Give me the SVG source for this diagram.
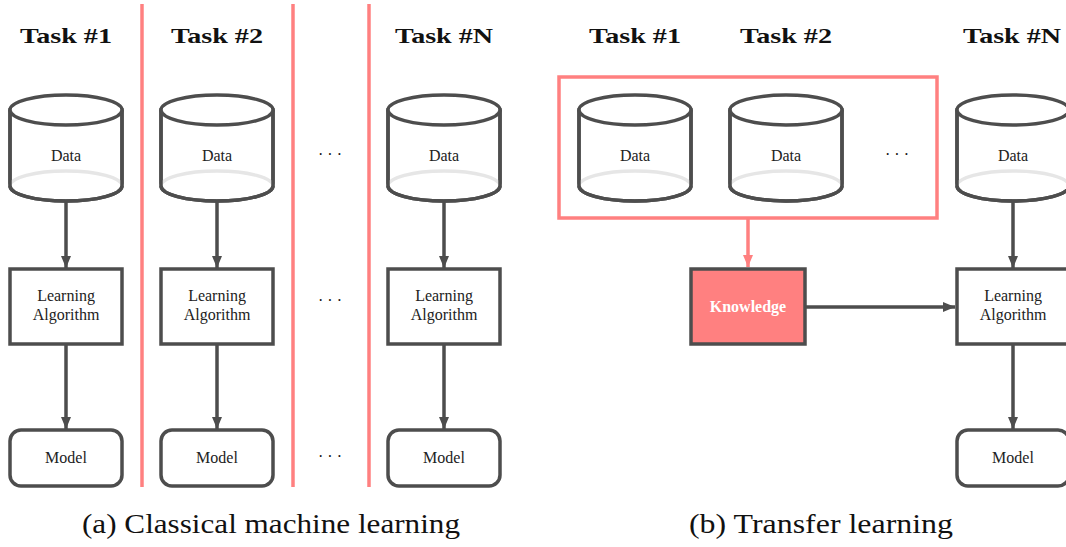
<svg xmlns="http://www.w3.org/2000/svg" width="1066" height="547" viewBox="0 0 1066 547">
  <style>
    text { font-family: "Liberation Serif", "Times New Roman", Tinos, "Noto Serif", "DejaVu Serif", Times, serif; }
    .hdr { font-weight: bold; font-size: 22px; fill: #111; text-anchor: middle; }
    .cap { font-size: 27px; fill: #111; text-anchor: middle; }
    .lbl { font-size: 16px; fill: #222; text-anchor: middle; }
    .know { font-weight: bold; font-size: 16px; fill: #fff; text-anchor: middle; }
    .dots { font-size: 16px; fill: #111; text-anchor: middle; }
    .shape { fill: #fff; stroke: #4d4d4d; stroke-width: 3.5; }
    .side { fill: none; stroke: #4d4d4d; stroke-width: 3.5; }
    .shade { fill: none; stroke: #e6e6e6; stroke-width: 3.5; }
    .sep { stroke: #ff8080; stroke-width: 3.5; }
    .edge { fill: none; stroke: #4d4d4d; stroke-width: 3.5; marker-end: url(#tip); }
    .edge-red { fill: none; stroke: #ff8080; stroke-width: 3.5; marker-end: url(#tip-red); }
  </style>
  <defs>
    <marker id="tip" markerUnits="userSpaceOnUse" markerWidth="14" markerHeight="12" refX="12" refY="6" orient="auto">
      <path d="M0,1 L12,6 L0,11 Z" fill="#4d4d4d"/>
    </marker>
    <marker id="tip-red" markerUnits="userSpaceOnUse" markerWidth="14" markerHeight="12" refX="12" refY="6" orient="auto">
      <path d="M0,1 L12,6 L0,11 Z" fill="#ff8080"/>
    </marker>
    <!-- data store cylinder centred on x=0 -->
    <g id="cyl">
      <path class="shape" d="M-56,110 L-56,186 A56,15 0 0 0 56,186 L56,110 Z"/>
      <path class="shade" d="M-56,186 A56,15 0 0 1 56,186"/>
      <path class="side" d="M-56,110 L-56,186 A56,15 0 0 0 56,186 L56,110"/>
      <ellipse class="shape" cx="0" cy="110" rx="56" ry="15"/>
      <text class="lbl" x="0" y="161">Data</text>
    </g>
    <g id="algo">
      <rect class="shape" x="-56" y="269" width="112" height="75"/>
      <text class="lbl" x="0" y="301">Learning</text>
      <text class="lbl" x="0" y="320">Algorithm</text>
    </g>
    <g id="model">
      <rect class="shape" x="-56" y="430" width="112" height="56" rx="11"/>
      <text class="lbl" x="0" y="463">Model</text>
    </g>
  </defs>

  <!-- column separators -->
  <g id="separators">
    <line class="sep" x1="142" y1="4" x2="142" y2="487"/>
    <line class="sep" x1="293" y1="4" x2="293" y2="487"/>
    <line class="sep" x1="369" y1="4" x2="369" y2="487"/>
  </g>

  <!-- headers -->
  <g id="headers">
    <text class="hdr" x="66" y="43" textLength="92" lengthAdjust="spacingAndGlyphs">Task #1</text>
    <text class="hdr" x="217" y="43" textLength="92" lengthAdjust="spacingAndGlyphs">Task #2</text>
    <text class="hdr" x="444" y="43" textLength="98" lengthAdjust="spacingAndGlyphs">Task #N</text>
    <text class="hdr" x="635" y="43" textLength="92" lengthAdjust="spacingAndGlyphs">Task #1</text>
    <text class="hdr" x="786" y="43" textLength="92" lengthAdjust="spacingAndGlyphs">Task #2</text>
    <text class="hdr" x="1012" y="43" textLength="98" lengthAdjust="spacingAndGlyphs">Task #N</text>
  </g>

  <!-- pooled source data -->
  <g id="source-pool">
    <rect x="559" y="77" width="378" height="141" fill="none" stroke="#ff8080" stroke-width="3.5"/>
  </g>

  <!-- connectors -->
  <g id="connectors">
    <path class="edge" d="M66,201 L66,268"/>
    <path class="edge" d="M66,344 L66,429"/>
    <path class="edge" d="M217,201 L217,268"/>
    <path class="edge" d="M217,344 L217,429"/>
    <path class="edge" d="M444,201 L444,268"/>
    <path class="edge" d="M444,344 L444,429"/>
    <path class="edge" d="M1013,201 L1013,268"/>
    <path class="edge" d="M1013,344 L1013,429"/>
    <path class="edge-red" d="M748,219 L748,267"/>
    <path class="edge" d="M806,307 L955,307"/>
  </g>

  <!-- classical learning, one pipeline per task -->
  <g id="task1-data"><use href="#cyl" x="66"/></g>
  <g id="task1-algo"><use href="#algo" x="66"/></g>
  <g id="task1-model"><use href="#model" x="66"/></g>
  <g id="task2-data"><use href="#cyl" x="217"/></g>
  <g id="task2-algo"><use href="#algo" x="217"/></g>
  <g id="task2-model"><use href="#model" x="217"/></g>
  <g id="taskN-data"><use href="#cyl" x="444"/></g>
  <g id="taskN-algo"><use href="#algo" x="444"/></g>
  <g id="taskN-model"><use href="#model" x="444"/></g>
  <g id="ellipses-a">
    <text class="dots" x="330" y="160">· · ·</text>
    <text class="dots" x="330" y="306">· · ·</text>
    <text class="dots" x="330" y="462">· · ·</text>
  </g>

  <!-- transfer learning -->
  <g id="src1-data"><use href="#cyl" x="635"/></g>
  <g id="src2-data"><use href="#cyl" x="786"/></g>
  <g id="ellipses-b"><text class="dots" x="897" y="160">· · ·</text></g>
  <g id="knowledge">
    <rect x="691" y="269" width="114" height="75" fill="#ff8080" stroke="#4d4d4d" stroke-width="3.5"/>
    <text class="know" x="748" y="312">Knowledge</text>
  </g>
  <g id="target-data"><use href="#cyl" x="1013"/></g>
  <g id="target-algo"><use href="#algo" x="1013"/></g>
  <g id="target-model"><use href="#model" x="1013"/></g>

  <!-- sub-captions -->
  <g id="captions">
    <text class="cap" x="271" y="533" textLength="378" lengthAdjust="spacingAndGlyphs">(a) Classical machine learning</text>
    <text class="cap" x="821" y="533" textLength="264" lengthAdjust="spacingAndGlyphs">(b) Transfer learning</text>
  </g>
</svg>
